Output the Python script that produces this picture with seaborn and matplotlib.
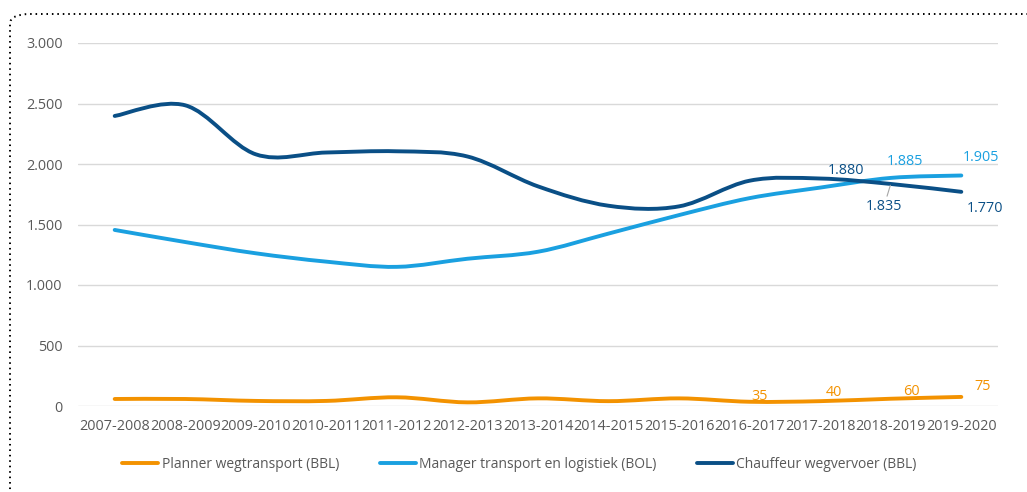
import numpy as np
import pandas as pd
import matplotlib
matplotlib.use("Agg")
import matplotlib.pyplot as plt
import seaborn as sns
from matplotlib.path import Path
from matplotlib.patches import PathPatch, FancyBboxPatch
from matplotlib.lines import Line2D
from matplotlib.ticker import FuncFormatter

periods = ["2007-2008", "2008-2009", "2009-2010", "2010-2011", "2011-2012",
           "2012-2013", "2013-2014", "2014-2015", "2015-2016", "2016-2017",
           "2017-2018", "2018-2019", "2019-2020"]
planner = [58, 58, 42, 42, 72, 30, 63, 40, 63, 35, 40, 60, 75]
manager = [1455, 1355, 1262, 1193, 1150, 1217, 1275, 1425, 1578, 1718, 1805, 1885, 1905]
chauffeur = [2397, 2485, 2080, 2095, 2105, 2062, 1815, 1655, 1650, 1862, 1880, 1835, 1770]

series_names = ["Planner wegtransport (BBL)",
                "Manager transport en logistiek (BOL)",
                "Chauffeur wegvervoer (BBL)"]
colors = ["#F39200", "#1AA0E0", "#0A4F86"]

# which points carry a data label, and where the label sits (pixels from the point)
labelled_idx = [[9, 10, 11, 12], [11, 12], [10, 11, 12]]
label_offsets = [[(10, 5), (14, 9), (21, 7), (21, 10)],
                 [(14, 16), (20, 18)],
                 [(26, 8), (-7, -23), (24, -17)]]

TEXT = "#595959"


def smooth_path(x, y):
    # excel-style smoothed line: cubic bezier through the points
    pts = np.column_stack([x, y]).astype(float)
    n = len(pts)
    verts = [pts[0]]
    codes = [Path.MOVETO]
    for i in range(n - 1):
        p0 = pts[max(i - 1, 0)]
        p1 = pts[i]
        p2 = pts[i + 1]
        p3 = pts[min(i + 2, n - 1)]
        verts += [p1 + (p2 - p0) / 6, p2 - (p3 - p1) / 6, p2]
        codes += [Path.CURVE4] * 3
    return Path(verts, codes)


def main():
    values = [planner, manager, chauffeur]
    df = pd.DataFrame({
        "pos": list(range(len(periods))) * 3,
        "value": planner + manager + chauffeur,
        "series": np.repeat(series_names, len(periods)),
    })

    sns.set_theme(style="white")
    plt.rcParams["font.family"] = ["Open Sans", "DejaVu Sans"]

    fig = plt.figure(figsize=(10.27, 4.92), dpi=100)
    ax = fig.add_axes([78 / 1027, 1 - 406 / 492, 920 / 1027, 363 / 492])

    sns.lineplot(data=df, x="pos", y="value", hue="series", hue_order=series_names,
                 palette=colors, legend=False, sort=False, ax=ax)

    # swap the straight segments for smoothed curves
    for line in list(ax.lines):
        xy = line.get_xydata()
        patch = PathPatch(smooth_path(xy[:, 0], xy[:, 1]), facecolor="none",
                          edgecolor=line.get_color(), lw=2.8, capstyle="round",
                          joinstyle="round", zorder=3)
        ax.add_patch(patch)
        line.remove()

    ax.set_xlim(-0.52, len(periods) - 0.48)
    ax.set_ylim(0, 3000)
    ax.set_yticks(np.arange(0, 3001, 500))
    ax.yaxis.set_major_formatter(FuncFormatter(lambda v, _: f"{int(v):,}".replace(",", ".")))
    ax.set_xticks(range(len(periods)))
    ax.set_xticklabels(periods)
    ax.tick_params(axis="both", length=0, labelsize=10.4, labelcolor=TEXT)
    ax.tick_params(axis="y", pad=11)
    ax.tick_params(axis="x", pad=9)
    ax.set_xlabel("")
    ax.set_ylabel("")
    ax.yaxis.grid(True, color="#D9D9D9", lw=1)
    ax.set_axisbelow(True)
    for sp in ax.spines.values():
        sp.set_visible(False)

    # data labels
    for vals, idxs, offs, col in zip(values, labelled_idx, label_offsets, colors):
        for i, (dx, dy) in zip(idxs, offs):
            txt = f"{vals[i]:,}".replace(",", ".")
            arrow = None
            if dy < -20:
                arrow = dict(arrowstyle="-", color="#A6A6A6", lw=0.8, shrinkA=0, shrinkB=1)
            ax.annotate(txt, xy=(i, vals[i]), xytext=(dx, dy), textcoords="offset pixels",
                        ha="center", va="center", fontsize=10.4, color=col,
                        arrowprops=arrow, zorder=4)

    handles = [Line2D([0], [0], color=c, lw=2.8) for c in colors]
    fig.legend(handles, series_names, loc="center", ncol=3, frameon=False,
               bbox_to_anchor=(519.5 / 1027, 1 - 464 / 492), fontsize=10,
               labelcolor=TEXT, handlelength=2.6, handletextpad=0.25,
               columnspacing=2.9)

    # dotted rounded frame around the chart
    frame = FancyBboxPatch((10 / 1027, -0.1), 1.1, 1 - 14 / 492 + 0.1,
                           boxstyle="round,pad=0,rounding_size=0.02",
                           transform=fig.transFigure, facecolor="none",
                           edgecolor="black", lw=1.4, linestyle=(0, (0.8, 2.0)),
                           clip_on=False)
    fig.add_artist(frame)

    fig.savefig("out.png", dpi=100)


if __name__ == "__main__":
    main()
